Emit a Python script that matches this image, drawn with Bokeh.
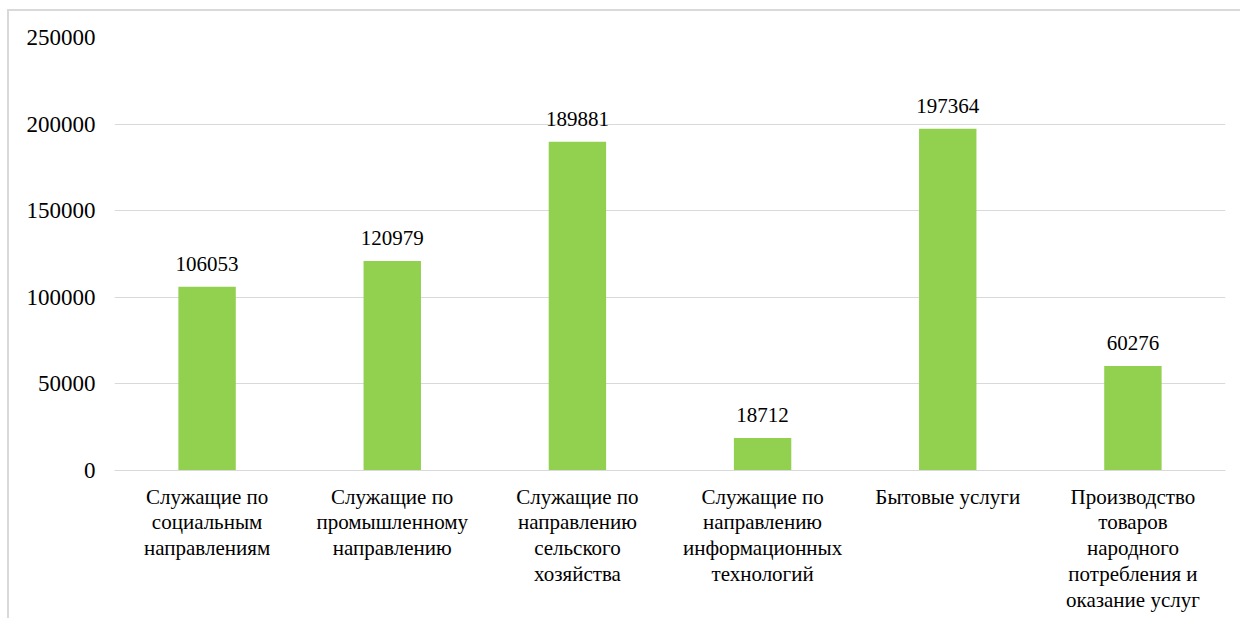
from bokeh.plotting import figure
from bokeh.models import ColumnDataSource, Range1d, FactorRange, LabelSet, NumeralTickFormatter
from bokeh.embed import file_html
from bokeh.resources import INLINE

categories = [
    "Служащие по\nсоциальным\nнаправлениям",
    "Служащие по\nпромышленному\nнаправлению",
    "Служащие по\nнаправлению\nсельского\nхозяйства",
    "Служащие по\nнаправлению\nинформационных\nтехнологий",
    "Бытовые услуги",
    "Производство\nтоваров\nнародного\nпотребления и\nоказание услуг",
]
values = [106053, 120979, 189881, 18712, 197364, 60276]
y_ticks = [0, 50000, 100000, 150000, 200000, 250000]

FONT = "Times New Roman"

src = ColumnDataSource(dict(x=categories, top=values, lbl=[str(v) for v in values]))

p = figure(
    width=1233, height=609,
    x_range=FactorRange(*categories, range_padding=0),
    y_range=Range1d(0, 250000),
    output_backend="svg", toolbar_location=None,
    min_border_left=105, min_border_right=17,
    min_border_top=26, min_border_bottom=150,
)
p.styles = {"border-left": "2px solid #d9d9d9", "border-top": "2px solid #d9d9d9",
            "margin-left": "7px", "margin-top": "9px"}
p.outline_line_color = None
p.background_fill_color = "white"
p.border_fill_color = "white"

p.vbar(x="x", top="top", width=0.31, source=src, color="#92d050", line_color=None)

labels = LabelSet(x="x", y="top", text="lbl", source=src, text_align="center",
                  text_baseline="alphabetic", y_offset=16, text_font=FONT,
                  text_font_size="21px", text_color="black")
p.add_layout(labels)

p.xgrid.grid_line_color = None
p.ygrid.grid_line_color = "#d9d9d9"
p.ygrid.grid_line_width = 1

p.yaxis.ticker = y_ticks
p.yaxis.formatter = NumeralTickFormatter(format="0")
p.yaxis.axis_line_color = None
p.yaxis.major_tick_line_color = None
p.yaxis.minor_tick_line_color = None
p.yaxis.major_label_standoff = 13
p.yaxis.major_label_text_font = FONT
p.yaxis.major_label_text_font_size = "23px"
p.yaxis.major_label_text_color = "black"

p.xaxis.axis_line_color = "#d9d9d9"
p.xaxis.major_tick_line_color = None
p.xaxis.minor_tick_line_color = None
p.xaxis.major_label_standoff = 8
p.xaxis.major_label_text_font = FONT
p.xaxis.major_label_text_font_size = "21px"
p.xaxis.major_label_text_color = "black"
p.xaxis.major_label_text_line_height = 1.08

open("out.html", "w").write(file_html(p, INLINE))
